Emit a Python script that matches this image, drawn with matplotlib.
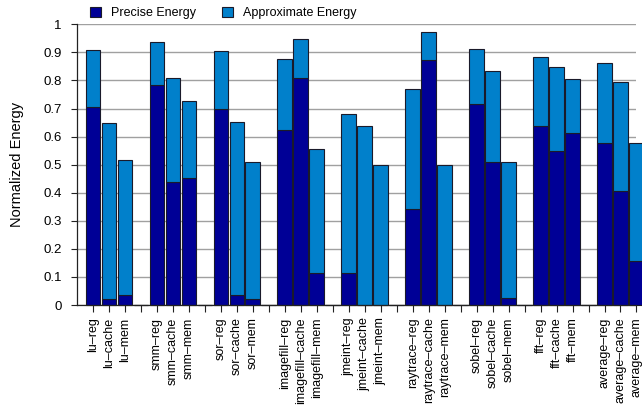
import numpy as np
import matplotlib
matplotlib.use("Agg")
import matplotlib.pyplot as plt
from matplotlib.patches import Patch

plt.rcParams['font.family'] = ['Liberation Sans', 'DejaVu Sans']

# benchmarks, each run with reg / cache / mem configurations
benchmarks = ["lu", "smm", "sor", "imagefill", "jmeint", "raytrace", "sobel", "fft", "average"]
configs = ["reg", "cache", "mem"]

precise = [
    [0.705, 0.022, 0.037],   # lu
    [0.782, 0.439, 0.451],   # smm
    [0.699, 0.036, 0.020],   # sor
    [0.624, 0.810, 0.113],   # imagefill
    [0.113, 0.000, 0.000],   # jmeint
    [0.342, 0.872, 0.000],   # raytrace
    [0.715, 0.509, 0.024],   # sobel
    [0.639, 0.550, 0.613],   # fft
    [0.578, 0.405, 0.158],   # average
]
total = [
    [0.910, 0.647, 0.517],
    [0.938, 0.807, 0.725],
    [0.906, 0.652, 0.508],
    [0.878, 0.949, 0.554],
    [0.681, 0.638, 0.499],
    [0.771, 0.974, 0.499],
    [0.913, 0.835, 0.511],
    [0.885, 0.849, 0.805],
    [0.861, 0.796, 0.578],
]

PRECISE_COLOR = "#000096"
APPROX_COLOR = "#0180cb"
EDGE = "#1a1a2a"

# flatten into one row of categories, with an empty slot between benchmarks
labels, prec_vals, approx_vals = [], [], []
for i, name in enumerate(benchmarks):
    for j, cfg in enumerate(configs):
        labels.append(f"{name}\u2013{cfg}")
        prec_vals.append(precise[i][j])
        approx_vals.append(total[i][j] - precise[i][j])
    if i < len(benchmarks) - 1:
        labels.append("")
        prec_vals.append(0.0)
        approx_vals.append(0.0)

x = np.arange(len(labels))
prec_vals = np.array(prec_vals)
approx_vals = np.array(approx_vals)

fig = plt.figure(figsize=(6.42, 4.05), dpi=100)
ax = fig.add_axes([0.1192, 0.2469, 0.8722, 0.6931])

ax.set_axisbelow(True)
ax.yaxis.grid(True, color="#a0a0a0", linewidth=1.0)

w = 0.92
ax.bar(x, prec_vals, w, color=PRECISE_COLOR, edgecolor=EDGE, linewidth=0.8, clip_on=False)
ax.bar(x, approx_vals, w, bottom=prec_vals, color=APPROX_COLOR, edgecolor=EDGE,
       linewidth=0.8, clip_on=False)

ax.set_xlim(-1.03, len(labels) - 1)
ax.set_ylim(0, 1)
ax.set_yticks(np.arange(0, 1.01, 0.1))
ax.set_yticklabels(["0"] + [f"{v:.1f}" for v in np.arange(0.1, 0.95, 0.1)] + ["1"])
ax.set_xticks(x)
ax.set_xticklabels(labels, rotation=90, fontsize=9)
ax.tick_params(axis="y", labelsize=9.5, length=4.5, width=0.8, color="#222222", pad=6)
ax.tick_params(axis="x", length=5, width=0.8, color="#222222", pad=4)
ax.set_ylabel("Normalized Energy", fontsize=10.5, labelpad=14)

for side in ["top", "right"]:
    ax.spines[side].set_visible(False)
for side in ["left", "bottom"]:
    ax.spines[side].set_color("#222222")
    ax.spines[side].set_linewidth(0.9)

handles = [Patch(facecolor=PRECISE_COLOR, edgecolor=EDGE, linewidth=0.8),
           Patch(facecolor=APPROX_COLOR, edgecolor=EDGE, linewidth=0.8)]
fig.legend(handles, ["Precise Energy", "Approximate Energy"], loc="center left",
           bbox_to_anchor=(0.122, 0.968), ncol=2, frameon=False, fontsize=9,
           handlelength=0.9, handleheight=0.9, handletextpad=0.8, columnspacing=2.1)

fig.savefig("out.png", dpi=100)
